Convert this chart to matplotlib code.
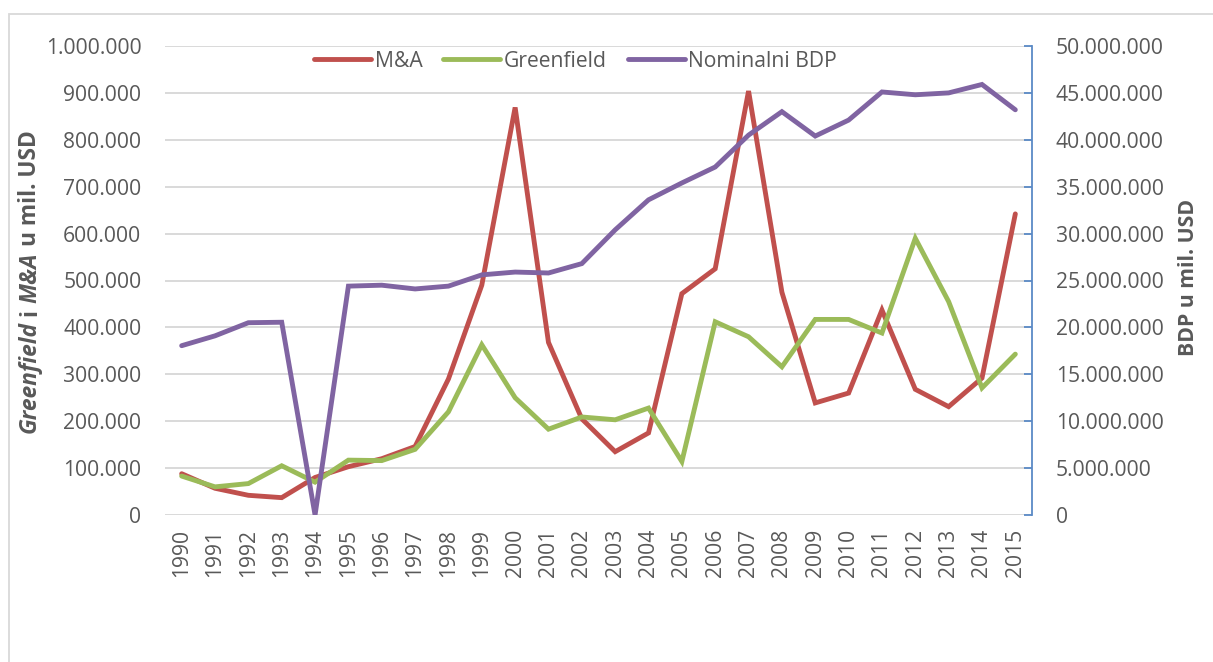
import matplotlib
matplotlib.use("Agg")
import matplotlib.pyplot as plt
from matplotlib.ticker import FuncFormatter, MultipleLocator
from matplotlib.patches import Rectangle

years = [str(y) for y in range(1990, 2016)]
ma = [88000, 57000, 42000, 37000, 80000, 103000, 120000, 146000, 290000, 490000,
      869000, 368000, 205000, 135000, 175000, 472000, 525000, 904000, 475000, 239000,
      260000, 437000, 268000, 231000, 292000, 642000]
greenfield = [83000, 60000, 67000, 105000, 70000, 117000, 116000, 140000, 220000, 363000,
              250000, 183000, 209000, 203000, 228000, 114000, 412000, 380000, 316000, 417000,
              417000, 388000, 590000, 455000, 271000, 343000]
bdp = [18050000, 19100000, 20500000, 20550000, 0, 24400000, 24500000, 24100000, 24400000, 25600000,
       25900000, 25800000, 26800000, 30400000, 33600000, 35400000, 37100000, 40500000, 43000000, 40400000,
       42100000, 45100000, 44800000, 45000000, 45900000, 43200000]
series_names = ["M&A", "Greenfield", "Nominalni BDP"]
left_label_parts = [("Greenfield", "italic"), ("i", "normal"), ("M&A", "italic"), ("u mil. USD", "normal")]
right_label = "BDP u mil. USD"

FONT = "Open Sans"
GRAY = "#595959"
plt.rcParams["font.family"] = [FONT, "DejaVu Sans"]

W, H = 1213, 662
fig = plt.figure(figsize=(W / 100, H / 100), dpi=100)
fig.patch.set_facecolor("white")

L, R, T, B = 165, 1032, 46, 515
ax = fig.add_axes([L / W, 1 - B / H, (R - L) / W, (B - T) / H])
ax2 = ax.twinx()

x = list(range(len(years)))
lw = 3.5
l1, = ax.plot(x, ma, color="#C0504D", lw=lw, solid_capstyle="round", solid_joinstyle="miter", label=series_names[0], zorder=3)
l2, = ax.plot(x, greenfield, color="#9BBB59", lw=lw, solid_capstyle="round", solid_joinstyle="miter", label=series_names[1], zorder=4)
l3, = ax2.plot(x, bdp, color="#8064A2", lw=lw, solid_capstyle="round", solid_joinstyle="miter", label=series_names[2], zorder=5)

FS = 15.2
ax.set_xlim(-0.5, len(years) - 0.5)
ax.set_ylim(0, 1000000)
ax2.set_ylim(0, 50000000)
ax.yaxis.set_major_locator(MultipleLocator(100000))
ax2.yaxis.set_major_locator(MultipleLocator(5000000))
fmt = FuncFormatter(lambda v, p: f"{int(round(v)):,}".replace(",", "."))
ax.yaxis.set_major_formatter(fmt)
ax2.yaxis.set_major_formatter(fmt)

ax.set_xticks(x)
ax.set_xticklabels(years, rotation=90, fontsize=FS, color=GRAY)
ax.tick_params(axis="x", length=0, pad=10)
ax.tick_params(axis="y", length=0, pad=17, labelsize=FS, labelcolor=GRAY)
ax2.tick_params(axis="y", direction="in", length=6, width=1.3, color="#5A8AC6", pad=17,
                labelsize=FS, labelcolor=GRAY)

ax.grid(axis="y", color="#D9D9D9", lw=1.4)
ax.set_axisbelow(True)
for s in ["top", "left", "right", "bottom"]:
    ax.spines[s].set_visible(False)
for s in ["top", "left", "bottom"]:
    ax2.spines[s].set_visible(False)
ax2.spines["right"].set_color("#5A8AC6")
ax2.spines["right"].set_linewidth(1.3)

leg = ax2.legend(handles=[l1, l2, l3], loc="center", bbox_to_anchor=(0.4735, 0.968), ncol=3,
                 frameon=False, fontsize=FS, handlelength=2.7, handletextpad=0.15,
                 columnspacing=1.0, borderpad=0)
for t in leg.get_texts():
    t.set_color(GRAY)

# Outer chart border
fig.patches.append(Rectangle((9 / W, -0.1), 1.2, 1 - 14 / H + 0.1, transform=fig.transFigure,
                             fill=False, edgecolor="#D9D9D9", lw=1.3, zorder=0))

# Left axis title with mixed styles
renderer = fig.canvas.get_renderer()
fs_lab = 16.4
def text_width(s, style):
    t = fig.text(0, 0, s, fontsize=fs_lab, fontweight="bold", fontstyle=style)
    w = t.get_window_extent(renderer).width
    t.remove()
    return w
space = text_width("a a", "normal") - text_width("aa", "normal")
widths = [text_width(s, st) for s, st in left_label_parts]
total = sum(widths) + space * (len(widths) - 1)
cy = 282
cur = cy + total / 2  # bottom in pixel-from-top coords
for (s, st), w in zip(left_label_parts, widths):
    fig.text(30 / W, 1 - cur / H, s, fontsize=fs_lab, fontweight="bold", fontstyle=st, color=GRAY,
             rotation=90, ha="left", va="center", rotation_mode="anchor")
    cur -= w + space

fig.text(1188 / W, 1 - 277 / H, right_label, fontsize=15.3, fontweight="bold", color=GRAY,
         rotation=90, ha="center", va="center")

fig.savefig("out.png", dpi=100, facecolor="white")
